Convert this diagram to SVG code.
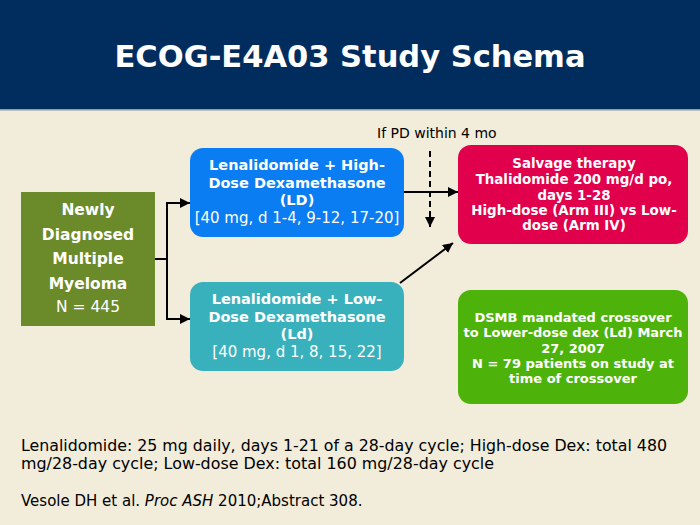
<svg xmlns="http://www.w3.org/2000/svg" width="700" height="525" viewBox="0 0 700 525">
<defs>
<marker id="ah" viewBox="0 0 10 10" refX="10" refY="5" markerWidth="10" markerHeight="10" markerUnits="userSpaceOnUse" orient="auto">
<path d="M0,0 L10,5 L0,10 z" fill="#000"/>
</marker>
</defs>
<style>
.b{font-family:"DejaVu Sans",Verdana,sans-serif;font-weight:bold;fill:#fff;text-anchor:middle}
.r{font-family:"DejaVu Sans",Verdana,sans-serif;fill:#fff;text-anchor:middle}
.c{stroke:#000;stroke-width:2;fill:none}
.foot{font-family:"DejaVu Sans",Verdana,sans-serif;font-size:15px;fill:#000}
</style>
<rect x="0" y="0" width="700" height="525" fill="#F2ECDB"/>
<rect x="0" y="0" width="700" height="109" fill="#002D5E"/>
<rect x="0" y="109" width="700" height="1.5" fill="#8A9AA8"/>
<text x="350" y="67" class="b" font-size="30.5">ECOG-E4A03 Study Schema</text>

<g id="newly">
<rect x="21" y="192" width="134" height="134" fill="#6B8A2A"/>
<text class="b" font-size="15.5"><tspan x="88" y="215">Newly</tspan><tspan x="88" y="240">Diagnosed</tspan><tspan x="88" y="264">Multiple</tspan><tspan x="88" y="289">Myeloma</tspan></text>
<text class="r" font-size="15.5" x="88" y="312">N = 445</text>
</g>

<g id="high">
<rect x="190" y="148" width="214" height="89" rx="13" fill="#0A7DF2"/>
<text class="b" font-size="14.5"><tspan x="297" y="170">Lenalidomide + High-</tspan><tspan x="297" y="188">Dose Dexamethasone</tspan><tspan x="297" y="205">(LD)</tspan></text>
<text class="r" font-size="15" x="297" y="223">[40 mg, d 1-4, 9-12, 17-20]</text>
</g>

<g id="low">
<rect x="190" y="282" width="214" height="89" rx="13" fill="#39B1BD"/>
<text class="b" font-size="14.5"><tspan x="297" y="304">Lenalidomide + Low-</tspan><tspan x="297" y="322">Dose Dexamethasone</tspan><tspan x="297" y="339">(Ld)</tspan></text>
<text class="r" font-size="15" x="297" y="357">[40 mg, d 1, 8, 15, 22]</text>
</g>

<g id="salvage">
<rect x="458" y="145" width="230" height="99" rx="13" fill="#E0004C"/>
<text class="b" font-size="13.4"><tspan x="574" y="168">Salvage therapy</tspan><tspan x="574" y="184">Thalidomide 200 mg/d po,</tspan><tspan x="574" y="200">days 1-28</tspan><tspan x="574" y="215">High-dose (Arm III) vs Low-</tspan><tspan x="574" y="230">dose (Arm IV)</tspan></text>
</g>

<g id="dsmb">
<rect x="458" y="290" width="230" height="114" rx="13" fill="#4DB30B"/>
<text class="b" font-size="13"><tspan x="573" y="322">DSMB mandated crossover</tspan><tspan x="573" y="337">to Lower-dose dex (Ld) March</tspan><tspan x="573" y="353">27, 2007</tspan><tspan x="573" y="368">N = 79 patients on study at</tspan><tspan x="573" y="383">time of crossover</tspan></text>
</g>

<g id="connectors">
<path class="c" d="M155,259 H167"/>
<path class="c" d="M167,259 V203 H190" marker-end="url(#ah)"/>
<path class="c" d="M167,259 V319 H190" marker-end="url(#ah)"/>
<path class="c" d="M404,192 H458" marker-end="url(#ah)"/>
<path class="c" d="M430,151 V227" stroke-dasharray="6,4" marker-end="url(#ah)"/>
<path class="c" d="M400,283 L453,243" marker-end="url(#ah)"/>
</g>
<text x="377" y="138" font-family="DejaVu Sans,Verdana,sans-serif" font-size="14" fill="#000">If PD within 4 mo</text>

<text class="foot" x="21" y="451" textLength="646" lengthAdjust="spacingAndGlyphs">Lenalidomide: 25 mg daily, days 1-21 of a 28-day cycle; High-dose Dex: total 480</text>
<text class="foot" x="21" y="469" textLength="473" lengthAdjust="spacingAndGlyphs">mg/28-day cycle; Low-dose Dex: total 160 mg/28-day cycle</text>
<text class="foot" x="21" y="506">Vesole DH et al. <tspan font-style="italic">Proc ASH</tspan> 2010;Abstract 308.</text>
</svg>
